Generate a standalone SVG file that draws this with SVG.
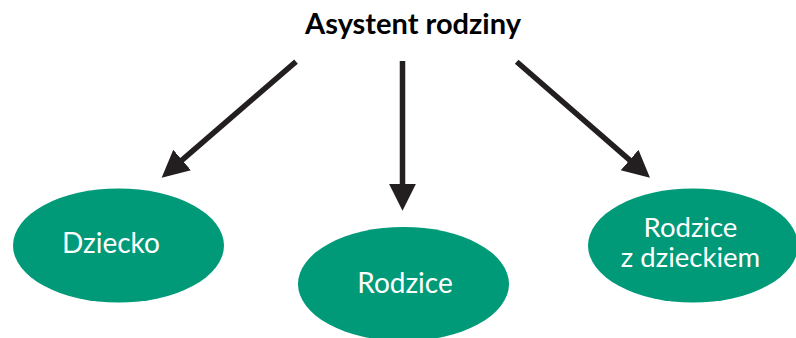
<svg xmlns="http://www.w3.org/2000/svg" width="796" height="338" viewBox="0 0 796 338">
<style>
.title{font-family:Lato,"Open Sans","Liberation Sans",sans-serif;font-weight:bold;font-size:29px;fill:#000;text-anchor:middle}
.node ellipse{fill:#009a78}
.node text{font-family:Lato,"Open Sans","Liberation Sans",sans-serif;font-size:28px;fill:#fff;text-anchor:middle}
.node text.two{font-size:27.5px}
.conn line{stroke:#231f20;stroke-width:5.5;fill:none}
</style>
<defs>
<marker id="ah" markerUnits="userSpaceOnUse" markerWidth="28" markerHeight="28" refX="7" refY="13.5" orient="auto">
<path d="M0,0 L27,13.5 L0,27 Z" fill="#231f20"/>
</marker>
</defs>
<rect width="796" height="338" fill="#fff"/>
<g id="title"><text class="title" x="413" y="34">Asystent rodziny</text></g>
<g id="connectors" class="conn">
<line x1="296" y1="61.7" x2="176.8" y2="164.6" marker-end="url(#ah)"/>
<line x1="402.5" y1="61" x2="402.5" y2="190.7" marker-end="url(#ah)"/>
<line x1="516.7" y1="61.7" x2="634.9" y2="164.6" marker-end="url(#ah)"/>
</g>
<g id="node-dziecko" class="node">
<ellipse cx="118.5" cy="245.5" rx="105.5" ry="57"/>
<text x="111" y="253">Dziecko</text>
</g>
<g id="node-rodzice" class="node">
<ellipse cx="403.5" cy="284" rx="105.5" ry="57"/>
<text x="405" y="293">Rodzice</text>
</g>
<g id="node-rodzice-z-dzieckiem" class="node">
<ellipse cx="693" cy="245.5" rx="105" ry="57"/>
<text class="two" x="690.5" y="236.5">Rodzice</text>
<text class="two" x="690.5" y="267">z dzieckiem</text>
</g>
</svg>
